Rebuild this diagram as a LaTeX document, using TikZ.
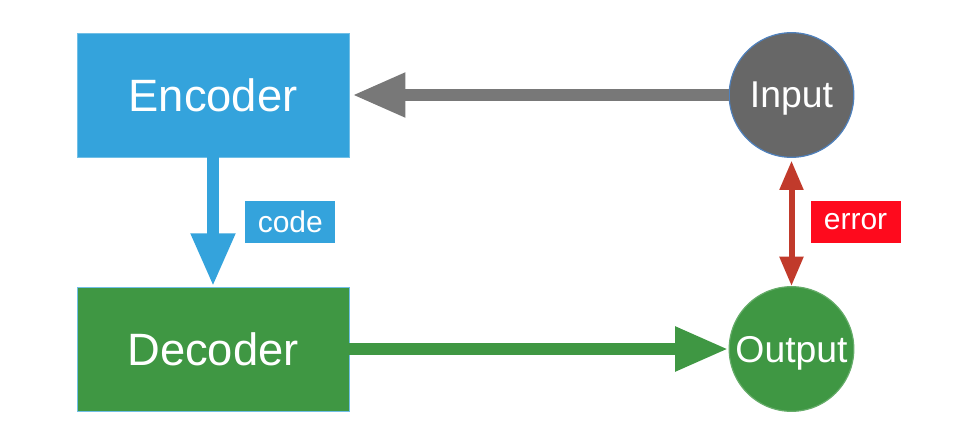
\documentclass[tikz,border=0pt]{standalone}
\usepackage{fontspec}
\setmainfont{Liberation Sans}
\usetikzlibrary{arrows.meta,positioning}
\definecolor{encblue}{RGB}{52,163,220}
\definecolor{decgreen}{RGB}{63,151,67}
\definecolor{ingray}{RGB}{103,103,103}
\definecolor{arrgray}{RGB}{120,120,120}
\definecolor{errred}{RGB}{193,58,43}
\definecolor{tagred}{RGB}{254,10,29}
\definecolor{rimblue}{RGB}{79,129,189}
\tikzset{
	box/.style={rectangle, draw=encblue!70, line width=0.6pt, minimum width=204pt,
		minimum height=93pt, inner sep=0pt, text=white, font=\fontsize{34}{40}\selectfont},
	ball/.style={circle, line width=0.9pt, minimum size=93.5pt, inner sep=0pt, text depth=0pt,
		text=white, font=\fontsize{28}{34}\selectfont},
	tag/.style={rectangle, minimum width=67.5pt, minimum height=31.5pt, inner sep=0pt,
		text=white, font=\fontsize{22.5}{27}\selectfont},
	fat/.style={line width=9.5pt, -{Triangle[length=40pt,width=31pt]}}
}
\begin{document}
\begin{tikzpicture}[x=0.75pt,y=-0.75pt]
	% rahmen
	\useasboundingbox (0,0) rectangle (956,446);
	% die boxen
	\node[box, fill=encblue] (enc) at (213,95) {Encoder};
	\node[box, fill=decgreen] (dec) at (213,349) {Decoder};
	% die kreise
	\node[ball, fill=ingray, draw=rimblue] (in) at (791.5,95) {Input};
	\node[ball, fill=decgreen, draw=decgreen!80] (out) at (791.5,349) {Output};
	% die pfeile mit annotation
	\draw[fat, draw=arrgray, fill=arrgray, shorten >=2pt] (in) -- (enc);
	\draw[fat, draw=encblue, fill=encblue] (enc) -- node[tag, fill=encblue, right=19.5pt] (code) {code} (dec);
	\draw[fat, draw=decgreen, fill=decgreen] (dec) -- (out);
	\draw[line width=4.5pt, draw=errred, {Triangle[length=22pt,width=17pt]}-{Triangle[length=22pt,width=17pt]}, shorten <=2pt]
		(in) -- node[tag, fill=tagred, right=12pt] (err) {error} (out);
\end{tikzpicture}
\end{document}
